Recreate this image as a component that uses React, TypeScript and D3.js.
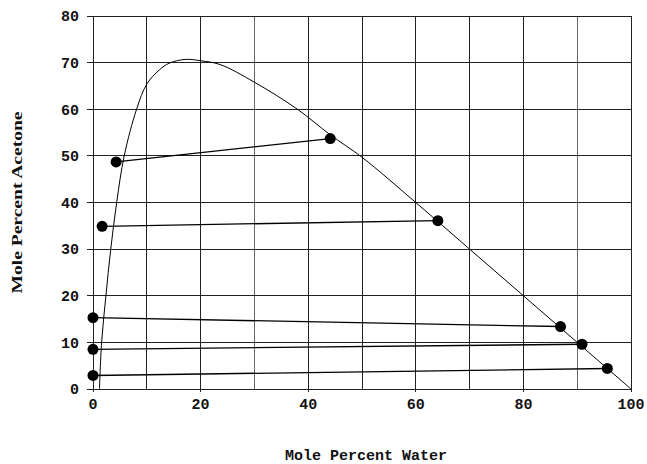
import * as d3 from 'd3';

// binodal curve (Mole % water, Mole % acetone)
const curveWater = [1.2, 1.6, 2.4, 3.3, 4.4, 5.8, 8.1, 10, 12.3, 14.2, 17.3, 20, 23.6, 30, 38, 44, 50, 60, 70, 80, 90, 100];
const curveAcetone = [0, 10, 20, 30, 40, 50, 60, 65.4, 68.4, 69.9, 70.7, 70.4, 69.6, 65.8, 60, 54.6, 49.7, 40, 30, 20, 10, 0];

// tie lines: left end (water-poor phase) and right end (water-rich phase)
const tieLeftWater = [0, 0, 0, 1.7, 4.3];
const tieLeftAcetone = [2.9, 8.5, 15.3, 34.9, 48.7];
const tieRightWater = [95.6, 90.9, 86.9, 64.1, 44.1];
const tieRightAcetone = [4.4, 9.6, 13.4, 36.1, 53.7];

const xTicks = [0, 20, 40, 60, 80, 100];
const yTicks = [0, 10, 20, 30, 40, 50, 60, 70, 80];
const gridX = [0, 10, 20, 30, 40, 50, 60, 70, 80, 90, 100];

const width = 647;
const height = 464;
const margin = { top: 16, right: 16, bottom: 75, left: 93 };

export default function App() {
  const x = d3.scaleLinear().domain([0, 100]).range([margin.left, width - margin.right]);
  const y = d3.scaleLinear().domain([0, 80]).range([height - margin.bottom, margin.top]);

  const curvePts: [number, number][] = curveWater.map((w, i) => [w, curveAcetone[i]]);
  const line = d3
    .line<[number, number]>()
    .x((d) => x(d[0]))
    .y((d) => y(d[1]))
    .curve(d3.curveCatmullRom.alpha(0.5));

  const mono = '"Liberation Mono", "DejaVu Sans Mono", monospace';

  return (
    <div style={{ position: 'absolute', left: 0, top: 0 }}>
      <svg width={width} height={height} style={{ display: 'block', background: '#fff' }}>
        {/* grid */}
        <g stroke="#222" strokeWidth={1} shapeRendering="crispEdges">
          {gridX.map((v) => (
            <line key={'gx' + v} x1={x(v)} x2={x(v)} y1={y(80)} y2={y(0)} stroke={v === 30 || v === 90 ? '#666' : '#222'} />
          ))}
          {yTicks.map((v) => (
            <line key={'gy' + v} x1={x(0) - 6} x2={x(100)} y1={y(v)} y2={y(v)} />
          ))}
          {xTicks.map((v) => (
            <line key={'tx' + v} x1={x(v)} x2={x(v)} y1={y(0)} y2={y(0) + 3} />
          ))}
        </g>

        {/* binodal curve */}
        <path d={line(curvePts) || ''} fill="none" stroke="#000" strokeWidth={1} />

        {/* tie lines */}
        <g>
          {tieLeftWater.map((lw, i) => (
            <g key={'tie' + i}>
              <line
                x1={x(lw)}
                y1={y(tieLeftAcetone[i])}
                x2={x(tieRightWater[i])}
                y2={y(tieRightAcetone[i])}
                stroke="#000"
                strokeWidth={1.3}
              />
              <circle cx={x(lw)} cy={y(tieLeftAcetone[i])} r={5.5} fill="#000" />
              <circle cx={x(tieRightWater[i])} cy={y(tieRightAcetone[i])} r={5.5} fill="#000" />
            </g>
          ))}
        </g>

        {/* tick labels */}
        <g fontFamily={mono} fontSize={15} fontWeight="bold" fill="#111">
          {yTicks.map((v) => (
            <text key={'yl' + v} x={x(0) - 14} y={y(v)} dy="0.35em" textAnchor="end">
              {v}
            </text>
          ))}
          {xTicks.map((v) => (
            <text key={'xl' + v} x={x(v)} y={y(0) + 20} textAnchor="middle">
              {v}
            </text>
          ))}
        </g>

        {/* axis titles */}
        <text
          x={(x(0) + x(100)) / 2 + 4}
          y={460}
          textAnchor="middle"
          fontFamily={mono}
          fontSize={15}
          fontWeight="bold"
          fill="#111"
        >
          Mole Percent Water
        </text>
        <text
          transform={`translate(22,${(y(0) + y(80)) / 2}) rotate(-90)`}
          textAnchor="middle"
          fontFamily='"Liberation Serif", "DejaVu Serif", serif'
          fontSize={15}
          fontWeight="bold"
          fill="#111"
          textLength={182}
          lengthAdjust="spacingAndGlyphs"
        >
          Mole Percent Acetone
        </text>
      </svg>
    </div>
  );
}
